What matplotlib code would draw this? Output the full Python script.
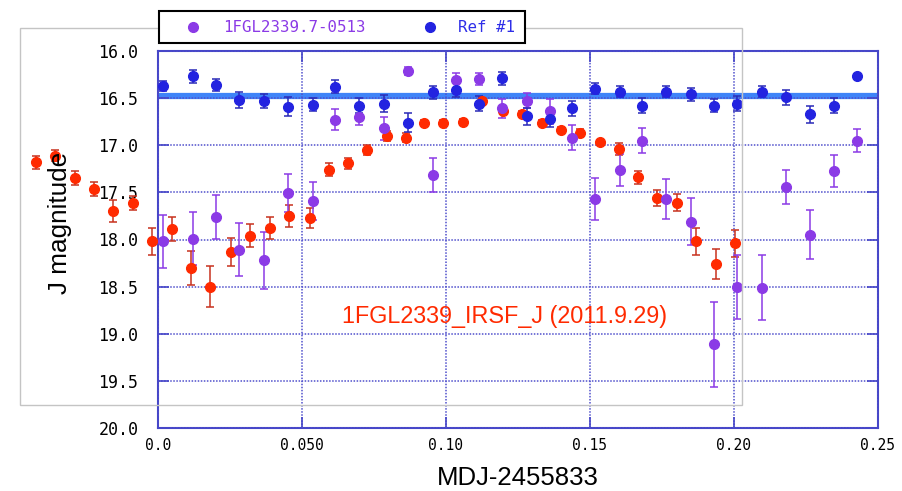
"""
Lichtkurve 1FGL2339 (IRSF J-Band) mit Vergleichsstern.
"""
import numpy as np
import matplotlib
matplotlib.use("Agg")
import matplotlib.pyplot as plt
from matplotlib.patches import Rectangle
from matplotlib.lines import Line2D

# ---------------------------------------------------------------------------
# Daten
# ---------------------------------------------------------------------------
t_obs = [0.0018, 0.0120, 0.0201, 0.0282, 0.0369, 0.0450, 0.0537, 0.0615,
         0.0699, 0.0786, 0.0867, 0.0954, 0.1035, 0.1116, 0.1193, 0.1280,
         0.1361, 0.1438, 0.1518, 0.1605, 0.1682, 0.1764, 0.1850, 0.1931,
         0.2012, 0.2098, 0.2181, 0.2265, 0.2347, 0.2428]

ref_mag = [16.37, 16.27, 16.36, 16.52, 16.53, 16.59, 16.57, 16.38, 16.58,
           16.56, 16.76, 16.44, 16.41, 16.56, 16.29, 16.69, 16.72, 16.61,
           16.40, 16.43, 16.58, 16.43, 16.46, 16.58, 16.56, 16.43, 16.49,
           16.67, 16.58, 16.27]
ref_err = [0.05, 0.07, 0.06, 0.09, 0.07, 0.10, 0.07, 0.07, 0.08, 0.09,
           0.10, 0.07, 0.08, 0.08, 0.07, 0.09, 0.09, 0.08, 0.06, 0.06,
           0.08, 0.06, 0.07, 0.07, 0.08, 0.06, 0.08, 0.09, 0.08, 0.03]
ref_mean = 16.475

tgt_mag = [18.02, 17.99, 17.76, 18.11, 18.22, 17.51, 17.59, 16.73, 16.70,
           16.82, 16.21, 17.32, 16.31, 16.30, 16.61, 16.53, 16.64, 16.92,
           17.57, 17.26, 16.95, 17.57, 17.81, 19.11, 18.50, 18.51, 17.44,
           17.95, 17.27, 16.95]
tgt_err = [0.28, 0.28, 0.235, 0.28, 0.30, 0.20, 0.20, 0.11, 0.08, 0.12,
           0.04, 0.18, 0.08, 0.065, 0.10, 0.08, 0.13, 0.13, 0.22, 0.17,
           0.13, 0.21, 0.25, 0.45, 0.34, 0.345, 0.18, 0.26, 0.17, 0.12]

irsf_t = [-0.0424, -0.0358, -0.0288, -0.0221, -0.0155, -0.0088, -0.0021,
          0.0048, 0.0113, 0.0181, 0.0252, 0.0319, 0.0389, 0.0456, 0.0528,
          0.0594, 0.0660, 0.0727, 0.0794, 0.0861, 0.0924, 0.0991, 0.1058,
          0.1125, 0.1197, 0.1263, 0.1332, 0.1399, 0.1465, 0.1534, 0.1601,
          0.1668, 0.1734, 0.1801, 0.1868, 0.1936, 0.2002]
irsf_mag = [17.18, 17.11, 17.35, 17.46, 17.70, 17.61, 18.02, 17.89, 18.30,
            18.50, 18.13, 17.96, 17.88, 17.75, 17.77, 17.26, 17.19, 17.05,
            16.90, 16.92, 16.76, 16.76, 16.75, 16.53, 16.64, 16.67, 16.76,
            16.84, 16.87, 16.97, 17.04, 17.34, 17.56, 17.61, 18.02, 18.26,
            18.04]
irsf_err = [0.07, 0.06, 0.075, 0.075, 0.115, 0.075, 0.14, 0.13, 0.18, 0.22,
            0.15, 0.12, 0.115, 0.115, 0.105, 0.067, 0.06, 0.05, 0.05, 0.05,
            0.03, 0.03, 0.03, 0.03, 0.03, 0.03, 0.03, 0.03, 0.04, 0.03,
            0.06, 0.07, 0.085, 0.09, 0.14, 0.155, 0.145]

x_ticks = [0.0, 0.05, 0.10, 0.15, 0.20, 0.25]
x_ticklabels = ["0.0", "0.050", "0.10", "0.15", "0.20", "0.25"]
y_ticks = [16.0, 16.5, 17.0, 17.5, 18.0, 18.5, 19.0, 19.5, 20.0]

# Farben
ROT, ROT_FEHLER = "#ff2a00", "#c8321e"
LILA = "#8b3ae6"
BLAU, BLAU_FEHLER = "#2323e0", "#2a2ab8"
ACHSE = "#4646c8"
MONO = "DejaVu Sans Mono"
SANS = "Liberation Sans"

W, H = 903, 491


def fx(px):
    return px / W


def fy(py):
    return 1 - py / H


fig = plt.figure(figsize=(W / 100, H / 100), dpi=100)
ax = fig.add_axes([fx(158), fy(428), fx(878) - fx(158), fy(51) - fy(428)])

ax.axhline(ref_mean, color="#3f84f8", lw=4.5, zorder=1.5)

fehlerbalken = dict(fmt="o", ms=7, capsize=2.6, elinewidth=1.1,
                    capthick=1.1, clip_on=False, zorder=3)
ax.errorbar(irsf_t, irsf_mag, yerr=irsf_err, color=ROT, ecolor=ROT_FEHLER,
            **fehlerbalken)
ax.errorbar(t_obs, tgt_mag, yerr=tgt_err, color=LILA, ecolor=LILA,
            **fehlerbalken)
ax.errorbar(t_obs, ref_mag, yerr=ref_err, color=BLAU, ecolor=BLAU_FEHLER,
            **fehlerbalken)

ax.set_xlim(0, 0.25)
ax.set_ylim(20.0, 16.0)
ax.set_xticks(x_ticks)
ax.set_xticklabels(x_ticklabels, family=MONO, fontsize=10.5)
ax.set_yticks(y_ticks)
ax.set_yticklabels([f"{v:.1f}" for v in y_ticks], family=MONO, fontsize=12)
ax.tick_params(direction="in", length=8, width=1.2, color=ACHSE,
               top=True, right=True)
ax.tick_params(axis="x", pad=7)
ax.tick_params(axis="y", pad=14)
for s in ax.spines.values():
    s.set_color(ACHSE)
    s.set_linewidth(1.5)
ax.grid(True, color="#5050cc", lw=1.1, ls=(0, (1, 1)))
ax.set_axisbelow(False)

ax.text(0.0639, 18.82, "1FGL2339_IRSF_J (2011.9.29)", color=ROT,
        family=SANS, fontsize=16.8, va="center", ha="left")

fig.text(fx(518), fy(478), "MDJ-2455833", family=SANS, fontsize=18.5,
         ha="center", va="center")
fig.text(fx(60), fy(223), "J magnitude", family=SANS, fontsize=18.8,
         rotation=90, ha="center", va="center")

# grauer Rahmen
fig.patches.append(Rectangle((fx(20), fy(405)), fx(742) - fx(20),
                             fy(28) - fy(405), fill=False,
                             edgecolor="#c4c4c4", lw=1.0,
                             transform=fig.transFigure, zorder=5))

# Legende
fig.patches.append(Rectangle((fx(159), fy(43)), fx(525) - fx(159),
                             fy(11) - fy(43), facecolor="white",
                             edgecolor="black", lw=1.5,
                             transform=fig.transFigure, zorder=6))
for mx, tx, farbe, label in [(193, 223, LILA, "1FGL2339.7-0513"),
                             (430, 458, "#2e2ee8", "Ref #1")]:
    fig.lines.append(Line2D([fx(mx)], [fy(27)], marker="o", ms=7,
                            color=LILA if farbe == LILA else BLAU, lw=0,
                            transform=fig.transFigure, zorder=7))
    fig.text(fx(tx), fy(27), label, color=farbe, family=MONO, fontsize=11.3,
             ha="left", va="center", zorder=7)

fig.savefig("out.png", dpi=100)
